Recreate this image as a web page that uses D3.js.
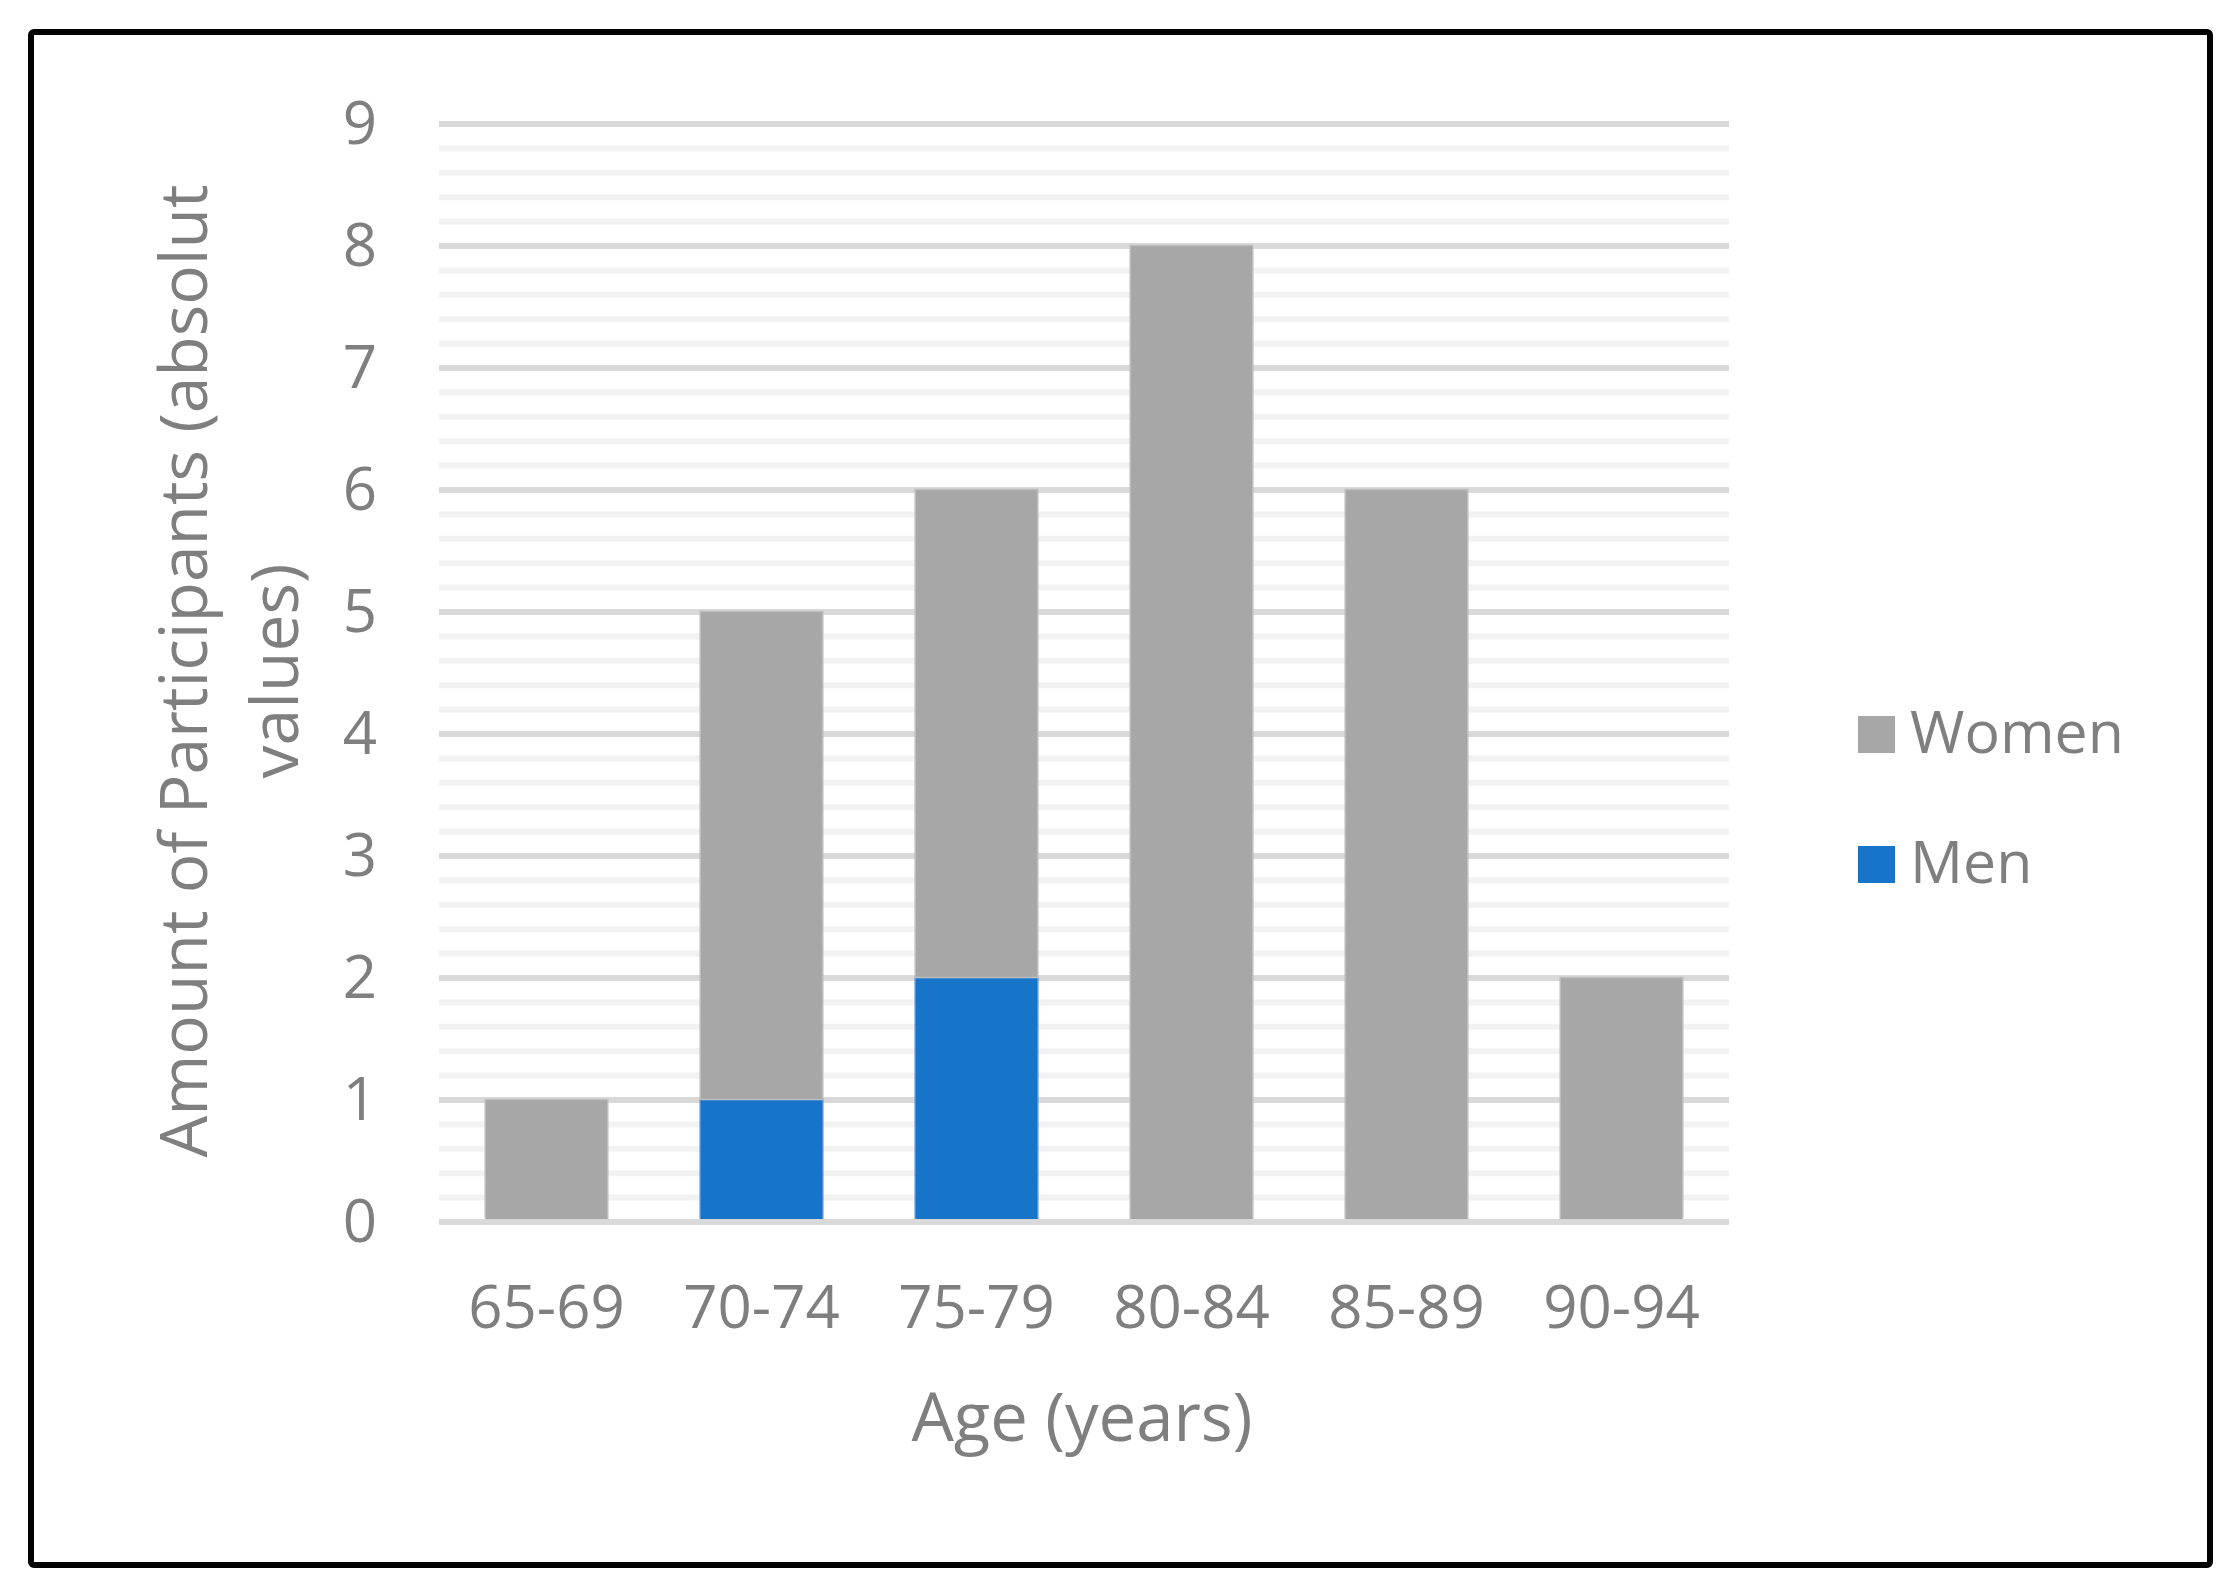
<!DOCTYPE html>
<html>
<head>
<meta charset="utf-8">
<script src="https://cdn.jsdelivr.net/npm/d3@7"></script>
<style>
  html, body { margin: 0; padding: 0; background: #ffffff; }
  svg { display: block; }
  text { font-family: "Open Sans", "Noto Sans", sans-serif; fill: #7f7f7f; }
</style>
</head>
<body>
<svg id="chart" width="2236" height="1592"></svg>
<script>
const categories = ["65-69", "70-74", "75-79", "80-84", "85-89", "90-94"];
const men = [0, 1, 2, 0, 0, 0];
const women = [1, 4, 4, 8, 6, 2];
const seriesNames = ["Women", "Men"];
const yTickValues = [0, 1, 2, 3, 4, 5, 6, 7, 8, 9];
const yTitleLines = ["Amount of Participants (absolut", "values)"];
const xTitle = "Age (years)";

const svg = d3.select("#chart");
const W = 2236, H = 1592;
const plot = { left: 439, right: 1729, top: 123.5, bottom: 1221.5 };

svg.append("rect").attr("width", W).attr("height", H).attr("fill", "#fff");

// outer border
svg.append("rect")
  .attr("x", 31).attr("y", 32).attr("width", 2179).attr("height", 1533)
  .attr("rx", 3)
  .attr("fill", "none").attr("stroke", "#000").attr("stroke-width", 6);

const x = d3.scaleBand().domain(categories)
  .range([plot.left, plot.right]).paddingInner(0.43).paddingOuter(0.215);
const y = d3.scaleLinear().domain([0, 9]).range([plot.bottom, plot.top]);

// minor gridlines
const minorTicks = y.ticks(45).filter(t => Math.abs(t - Math.round(t)) > 1e-6);
svg.append("g")
  .attr("transform", `translate(${plot.left},0)`)
  .call(d3.axisLeft(y).tickValues(minorTicks).tickSize(-(plot.right - plot.left)).tickFormat(""))
  .call(g => g.select(".domain").remove())
  .call(g => g.selectAll("line").attr("stroke", "#f2f2f2").attr("stroke-width", 6));

// major gridlines (excluding zero, drawn later)
svg.append("g")
  .attr("transform", `translate(${plot.left},0)`)
  .call(d3.axisLeft(y).tickValues(yTickValues.filter(v => v > 0)).tickSize(-(plot.right - plot.left)).tickFormat(""))
  .call(g => g.select(".domain").remove())
  .call(g => g.selectAll("line").attr("stroke", "#d9d9d9").attr("stroke-width", 6));

// stacked bars
const rows = categories.map((c, i) => ({ cat: c, Men: men[i], Women: women[i] }));
const stack = d3.stack().keys(["Men", "Women"])(rows);
const colors = { Men: "#1874c9", Women: "#a7a7a7" };
const strokes = { Men: "#4a93dc", Women: "#bdbdbd" };

svg.append("g").selectAll("g").data(stack).join("g")
  .attr("fill", d => colors[d.key])
  .attr("stroke", d => strokes[d.key])
  .attr("stroke-width", 1.5)
  .selectAll("rect").data(d => d.filter(s => s[1] - s[0] > 0)).join("rect")
  .attr("x", d => x(d.data.cat))
  .attr("width", x.bandwidth())
  .attr("y", d => y(d[1]))
  .attr("height", d => y(d[0]) - y(d[1]));

// zero line
svg.append("g")
  .attr("transform", `translate(${plot.left},0)`)
  .call(d3.axisLeft(y).tickValues([0]).tickSize(-(plot.right - plot.left)).tickFormat(""))
  .call(g => g.select(".domain").remove())
  .call(g => g.selectAll("line").attr("stroke", "#d9d9d9").attr("stroke-width", 6));

// y tick labels
const yAxis = svg.append("g")
  .attr("transform", `translate(377,0)`)
  .call(d3.axisLeft(y).tickValues(yTickValues).tickSize(0).tickPadding(0).tickFormat(d3.format("d")));
yAxis.select(".domain").remove();
yAxis.selectAll("text")
  .attr("x", 0).attr("dy", null).attr("y", 19.5)
  .attr("text-anchor", "end")
  .style("font-family", '"Open Sans", sans-serif')
  .style("font-size", "60px").attr("fill", "#7f7f7f");

// x tick labels
const xAxis = svg.append("g")
  .attr("transform", `translate(0,1328)`)
  .call(d3.axisBottom(x).tickSize(0).tickPadding(0));
xAxis.select(".domain").remove();
xAxis.selectAll("text")
  .attr("y", 0).attr("dy", null)
  .style("font-family", '"Open Sans", sans-serif')
  .style("font-size", "60px").attr("fill", "#7f7f7f");

// x title
svg.append("text")
  .attr("x", (plot.left + plot.right) / 2 - 2).attr("y", 1441)
  .attr("text-anchor", "middle")
  .style("font-size", "67px")
  .text(xTitle);

// y title
const yt = svg.append("text")
  .attr("transform", "translate(207,671) rotate(-90)")
  .attr("text-anchor", "middle")
  .style("font-size", "66px");
yTitleLines.forEach((line, i) => {
  yt.append("tspan").attr("x", 0).attr("y", i * 91).text(line);
});

// legend
const legendItems = [
  { name: seriesNames[0], color: colors.Women, sq: 716, base: 752.5 },
  { name: seriesNames[1], color: colors.Men, sq: 846, base: 883 }
];
const lg = svg.append("g");
legendItems.forEach(it => {
  lg.append("rect").attr("x", 1858).attr("y", it.sq).attr("width", 37).attr("height", 37).attr("fill", it.color);
  lg.append("text").attr("x", 1910).attr("y", it.base).style("font-size", "59px").text(it.name);
});
</script>
</body>
</html>
